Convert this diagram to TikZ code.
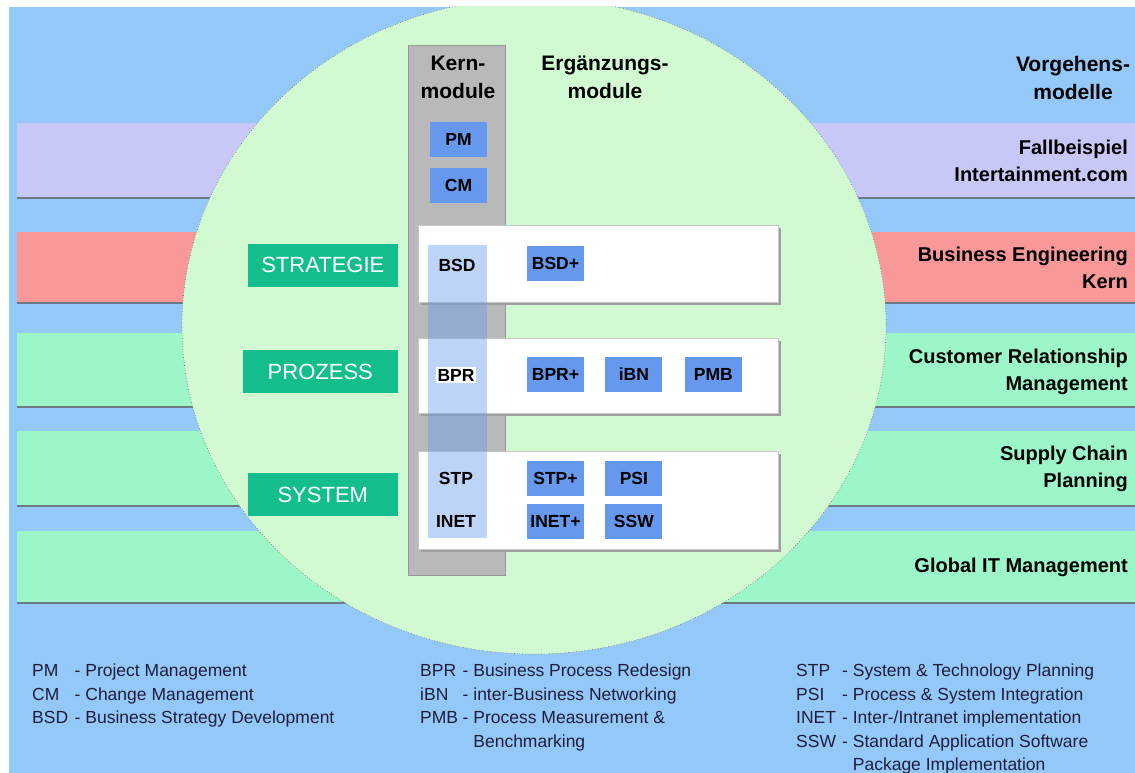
\documentclass[tikz,border=0pt]{standalone}
\usepackage{fontspec}
\setmainfont{Liberation Sans}
\usetikzlibrary{positioning}

\definecolor{bgblue}{HTML}{94C8F8}
\definecolor{circgreen}{HTML}{D2FAD2}
\definecolor{lavender}{HTML}{C8C8F8}
\definecolor{salmon}{HTML}{F89898}
\definecolor{mint}{HTML}{9CF6C8}
\definecolor{bandline}{HTML}{6E7886}
\definecolor{kerngray}{HTML}{B9B9BC}
\definecolor{modblue}{HTML}{6699EE}
\definecolor{layergreen}{HTML}{14BE8C}
\definecolor{legendtext}{HTML}{1E1E3C}

\newcommand{\abk}[2][2.15em]{\makebox[#1][l]{#2}}

\tikzset{
  modbox/.style={fill=modblue, minimum width=57pt, minimum height=35pt, inner sep=0pt,
    font=\fontsize{17.5}{17.5}\selectfont\bfseries},
  kernlabel/.style={inner sep=1.5pt, font=\fontsize{17.5}{17.5}\selectfont\bfseries},
  layerbox/.style={fill=layergreen, text=white, minimum height=43pt, inner sep=0pt,
    font=\fontsize{22}{22}\selectfont},
  headlabel/.style={align=center, font=\fontsize{21}{28}\selectfont\bfseries},
  sidelabel/.style={anchor=east, align=right, inner sep=0pt,
    font=\fontsize{20}{27}\selectfont\bfseries},
  legend/.style={anchor=north west, align=left, inner sep=0pt, text=legendtext,
    font=\fontsize{17.5}{23.5}\selectfont},
}

\begin{document}
\begin{tikzpicture}[x=1pt,y=-1pt]
  \useasboundingbox (0,0) rectangle (1135,773);
  \fill[bgblue] (9,7) rectangle (1135,773);
  \foreach \t/\b/\c in {123/198/lavender, 232/303/salmon, 333/407/mint, 431/506/mint, 531/603/mint}{
    \fill[\c] (17,\t) rectangle (1135,\b);
    \draw[bandline, line width=1.2pt] (17,\b) -- (1135,\b);
  }
  \begin{scope}
    \clip (9,7) rectangle (1135,773);
    \fill[circgreen] (534,326) ellipse [x radius=352, y radius=328];
    \draw[gray, line width=0.7pt, dotted] (534,326) ellipse [x radius=352, y radius=328];
  \end{scope}

  \filldraw[fill=kerngray, draw=gray!80] (408,45) rectangle (505,575);
  \node[headlabel] (kern) at (458,77) {Kern-\\module};
  \node[headlabel] (erg) at (605,77) {Ergänzungs-\\module};
  \node[headlabel] (vorg) at (1073,78) {Vorgehens-\\modelle};

  \node[modbox] (pm) at (458.5,139.5) {PM};
  \node[modbox, below=11pt of pm] (cm) {CM};

  \foreach \t/\b in {225/302, 338/413, 451/549}{
    \fill[gray!75] (421,\t+3) rectangle (781,\b+3);
    \filldraw[fill=white, draw=gray!45] (418,\t) rectangle (778,\b);
  }
  \fill[modblue, opacity=0.42] (428,245) rectangle (487,538);

  \node[kernlabel] (bsd) at (457,265) {BSD};
  \node[kernlabel, fill=white] (bpr) at (456,375) {BPR};
  \node[kernlabel] (stp) at (456,478) {STP};
  \node[kernlabel] (inet) at (456,521) {INET};

  \node[modbox] (bsdp) at (555.5,263.5) {BSD+};
  \node[modbox] (bprp) at (555.5,374.5) {BPR+};
  \node[modbox, right=21pt of bprp] (ibn) {iBN};
  \node[modbox, right=22pt of ibn] (pmb) {PMB};
  \node[modbox] (stpp) at (555.5,478) {STP+};
  \node[modbox, right=21pt of stpp] (psi) {PSI};
  \node[modbox, below=8pt of stpp] (inetp) {INET+};
  \node[modbox, right=21pt of inetp] (ssw) {SSW};

  \node[layerbox, minimum width=150pt, anchor=east] (strat) at (398,265) {STRATEGIE};
  \node[layerbox, minimum width=155pt, anchor=east] (proz) at (398,371.5) {PROZESS};
  \node[layerbox, minimum width=150pt, anchor=east] (sys) at (398,494.5) {SYSTEM};

  \node[sidelabel] (fall) at (1128,161) {Fallbeispiel\\Intertainment.com};
  \node[sidelabel] (bek) at (1128,268) {Business Engineering\\Kern};
  \node[sidelabel] (crm) at (1128,371.5) {Customer Relationship\\Management};
  \node[sidelabel] (scp) at (1128,468.5) {Supply Chain\\Planning};
  \node[sidelabel] (git) at (1128,567) {Global IT Management};

  \node[legend] (leg1) at (32,664) {\abk{PM} - Project Management\\
    \abk{CM} - Change Management\\
    \abk{BSD} - Business Strategy Development};
  \node[legend] (leg2) at (420,664) {\abk{BPR} - Business Process Redesign\\
    \abk{iBN} - inter-Business Networking\\
    \abk{PMB} - Process Measurement \&\\
    \abk{} \hphantom{-} Benchmarking};
  \node[legend] (leg3) at (796,664) {\abk[2.35em]{STP} - System \& Technology Planning\\
    \abk[2.35em]{PSI} - Process \& System Integration\\
    \abk[2.35em]{INET} - Inter-/Intranet implementation\\
    \abk[2.35em]{SSW} - Standard Application Software\\
    \abk[2.35em]{} \hphantom{-} Package Implementation};
\end{tikzpicture}
\end{document}
